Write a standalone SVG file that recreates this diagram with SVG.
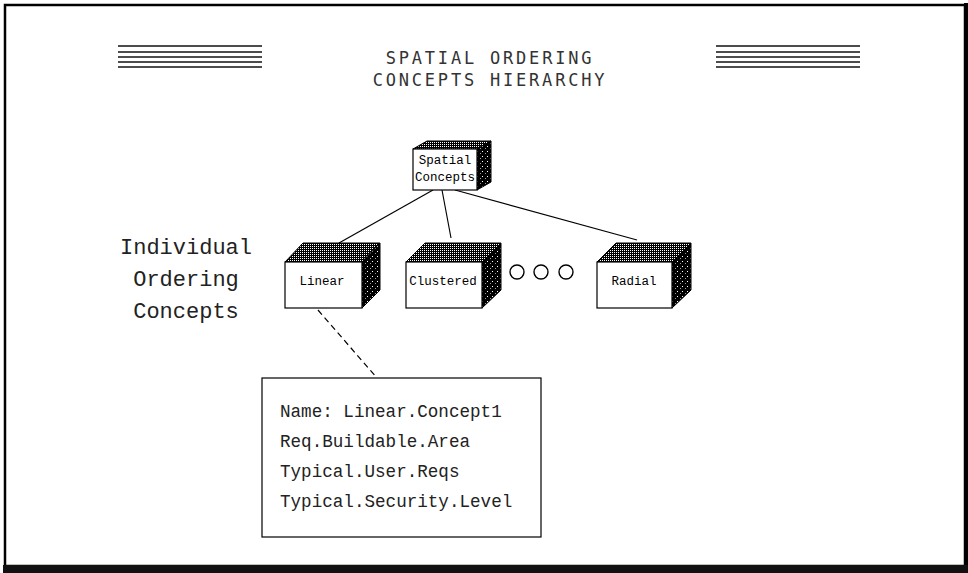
<svg xmlns="http://www.w3.org/2000/svg" width="968" height="573" viewBox="0 0 968 573">
  <defs>
    <!-- dotted screen for the cube tops -->
    <pattern id="dots" width="2" height="2" patternUnits="userSpaceOnUse">
      <rect width="2" height="2" fill="#000"/>
      <rect x="0" y="0" width="1" height="1" fill="#fff"/>
    </pattern>
    <!-- dark screen for the cube sides -->
    <pattern id="shade" width="5" height="5" patternUnits="userSpaceOnUse">
      <rect width="5" height="5" fill="#000"/>
      <rect x="2" y="1" width="1" height="1" fill="#fff"/>
      <rect x="0" y="3" width="1" height="1" fill="#999"/>
    </pattern>
    <style>
      .rule { stroke: #111; stroke-width: 1.4; }
      .title { font-family: "DejaVu Sans Mono", "Liberation Mono", monospace; font-size: 17px; letter-spacing: 2.8px; fill: #333; text-anchor: middle; }
      .side-label { font-family: "Liberation Mono", "DejaVu Sans Mono", monospace; font-size: 22px; fill: #222; text-anchor: middle; }
      .cube-label { font-family: "Liberation Mono", "DejaVu Sans Mono", monospace; font-size: 12.5px; fill: #000; text-anchor: middle; }
      .face { fill: #fff; stroke: #000; stroke-width: 1.2; }
      .top { fill: url(#dots); stroke: #000; stroke-width: 1; }
      .side { fill: url(#shade); stroke: #000; stroke-width: 1; }
      .link { stroke: #000; stroke-width: 1.2; fill: none; }
      .info-text { font-family: "Liberation Mono", "DejaVu Sans Mono", monospace; font-size: 17.6px; fill: #222; }
    </style>
  </defs>

  <rect width="968" height="573" fill="#fff"/>

  <!-- page frame -->
  <g id="frame">
    <rect x="5" y="5" width="960" height="561" fill="none" stroke="#000" stroke-width="2.5"/>
    <rect x="964" y="3" width="4" height="570" fill="#000"/>
    <rect x="3" y="565" width="965" height="8" fill="#111"/>
  </g>

  <!-- header rules -->
  <g id="rules-left">
    <line class="rule" x1="118" y1="46" x2="262" y2="46"/>
    <line class="rule" x1="118" y1="52" x2="262" y2="52"/>
    <line class="rule" x1="118" y1="57" x2="262" y2="57"/>
    <line class="rule" x1="118" y1="62" x2="262" y2="62"/>
    <line class="rule" x1="118" y1="67" x2="262" y2="67"/>
  </g>
  <g id="rules-right">
    <line class="rule" x1="716" y1="46" x2="860" y2="46"/>
    <line class="rule" x1="716" y1="52" x2="860" y2="52"/>
    <line class="rule" x1="716" y1="57" x2="860" y2="57"/>
    <line class="rule" x1="716" y1="62" x2="860" y2="62"/>
    <line class="rule" x1="716" y1="67" x2="860" y2="67"/>
  </g>

  <g id="title">
    <text class="title" x="490" y="64">SPATIAL ORDERING</text>
    <text class="title" x="490" y="86">CONCEPTS HIERARCHY</text>
  </g>

  <g id="group-label">
    <text class="side-label" x="186" y="254">Individual</text>
    <text class="side-label" x="186" y="286">Ordering</text>
    <text class="side-label" x="186" y="318">Concepts</text>
  </g>

  <!-- connectors -->
  <g id="connectors">
    <line class="link" x1="433" y1="190" x2="339" y2="243"/>
    <line class="link" x1="442" y1="190" x2="451" y2="238"/>
    <line class="link" x1="455" y1="190" x2="637" y2="240"/>
    <line class="link" x1="318" y1="310" x2="377" y2="378" stroke-dasharray="6 4"/>
  </g>

  <!-- root cube -->
  <g id="node-spatial">
    <polygon class="top" points="413,149 427,141 491,141 477,149"/>
    <polygon class="side" points="477,149 491,141 491,182 477,190"/>
    <rect class="face" x="413" y="149" width="64" height="41"/>
    <text class="cube-label" x="445" y="164">Spatial</text>
    <text class="cube-label" x="445" y="181">Concepts</text>
  </g>

  <g id="node-linear">
    <polygon class="top" points="285,262 303,243 380,243 362,262"/>
    <polygon class="side" points="362,262 380,243 380,290 362,308"/>
    <rect class="face" x="285" y="262" width="77" height="46"/>
    <text class="cube-label" x="322" y="285">Linear</text>
  </g>

  <g id="node-clustered">
    <polygon class="top" points="406,262 425,243 501,243 482,262"/>
    <polygon class="side" points="482,262 501,243 501,290 482,308"/>
    <rect class="face" x="406" y="262" width="76" height="46"/>
    <text class="cube-label" x="443" y="285">Clustered</text>
  </g>

  <g id="ellipsis">
    <circle cx="517" cy="272" r="7" fill="none" stroke="#000" stroke-width="1.4"/>
    <circle cx="541" cy="272" r="7" fill="none" stroke="#000" stroke-width="1.4"/>
    <circle cx="566" cy="272" r="7" fill="none" stroke="#000" stroke-width="1.4"/>
  </g>

  <g id="node-radial">
    <polygon class="top" points="597,262 616,243 691,243 672,262"/>
    <polygon class="side" points="672,262 691,243 691,290 672,308"/>
    <rect class="face" x="597" y="262" width="75" height="46"/>
    <text class="cube-label" x="634" y="285">Radial</text>
  </g>

  <g id="node-detail">
    <rect x="262" y="378" width="279" height="159" fill="#fff" stroke="#000" stroke-width="1.2"/>
    <text class="info-text" x="280" y="417">Name: Linear.Concept1</text>
    <text class="info-text" x="280" y="447">Req.Buildable.Area</text>
    <text class="info-text" x="280" y="477">Typical.User.Reqs</text>
    <text class="info-text" x="280" y="507">Typical.Security.Level</text>
  </g>
</svg>
